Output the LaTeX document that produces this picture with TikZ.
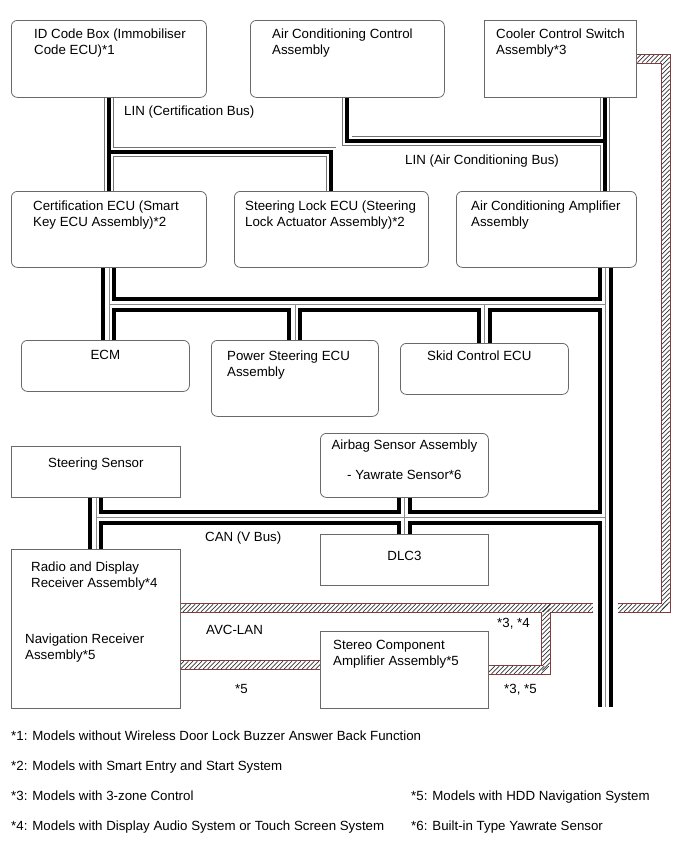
\documentclass[tikz,border=0pt]{standalone}
\usepackage{fontspec}
\setmainfont{Liberation Sans}
\usetikzlibrary{backgrounds,decorations.markings}

\definecolor{frameline}{RGB}{105,105,105}
\definecolor{avcedge}{RGB}{130,60,60}

\tikzset{
  unit/.style={draw=frameline, fill=white, line width=0.8pt, anchor=north west, inner sep=0pt},
  runit/.style={unit, rounded corners=6pt},
  txt/.style={font=\fontsize{13.3}{16}\selectfont, inner sep=0pt, align=left},
  canout/.style={draw=black, line width=15pt},
  canin/.style={draw=white, line width=7pt},
  canmid/.style={draw=black!45, line width=0.7pt},
  linout/.style={draw=black!55, line width=10pt},
  linin/.style={draw=white, line width=8.4pt},
  linmid/.style={draw=black, line width=4pt},
  avcout/.style={draw=avcedge, line width=10pt},
  avcin/.style={draw=white, line width=8.4pt},
  avchatch/.style={decorate, decoration={markings,
    mark=between positions 0 and 1 step 4.5pt with {\pgftransformresetnontranslations
      \draw[black!80, line width=0.7pt] (-3.8pt,-3.8pt) -- (3.8pt,3.8pt);}}}
}

\begin{document}
\begin{tikzpicture}[x=1pt,y=-1pt]
\useasboundingbox (0,0) rectangle (690,855);

%Boxes, top row
\node[runit, minimum width=195pt, minimum height=77pt,
  label={[txt, anchor=north west, xshift=23pt, yshift=-8.3pt]north west:ID Code Box (Immobiliser\\Code ECU)*1}] (idbox) at (11,20) {};
\node[runit, minimum width=194pt, minimum height=77pt,
  label={[txt, anchor=north west, xshift=22pt, yshift=-8.3pt]north west:Air Conditioning Control\\Assembly}] (acctrl) at (250,20) {};
\node[unit, minimum width=152pt, minimum height=77pt,
  label={[txt, anchor=north west, xshift=12pt, yshift=-8.3pt]north west:Cooler Control Switch\\Assembly*3}] (cooler) at (484,20) {};

%Boxes, second row
\node[runit, minimum width=195pt, minimum height=76pt,
  label={[txt, anchor=north west, xshift=22pt, yshift=-9.3pt]north west:Certification ECU (Smart\\Key ECU Assembly)*2}] (certecu) at (11,191) {};
\node[runit, minimum width=194pt, minimum height=76pt,
  label={[txt, anchor=north west, xshift=11pt, yshift=-9.3pt]north west:Steering Lock ECU (Steering\\Lock Actuator Assembly)*2}] (stlock) at (234,191) {};
\node[runit, minimum width=180pt, minimum height=76pt,
  label={[txt, anchor=north west, xshift=15pt, yshift=-9.3pt]north west:Air Conditioning Amplifier\\Assembly}] (acamp) at (456,191) {};

%Boxes, third row
\node[runit, minimum width=168pt, minimum height=51pt,
  label={[txt, anchor=north, yshift=-10.3pt]north:ECM}] (ecm) at (21,340) {};
\node[runit, minimum width=167pt, minimum height=76pt,
  label={[txt, anchor=north west, xshift=16pt, yshift=-10.3pt]north west:Power Steering ECU\\Assembly}] (pwrst) at (211,340) {};
\node[runit, minimum width=168pt, minimum height=51pt,
  label={[txt, anchor=north west, xshift=27pt, yshift=-7.3pt]north west:Skid Control ECU}] (skid) at (400,343) {};

%Boxes, lower part
\node[unit, minimum width=169pt, minimum height=51pt,
  label={[txt, anchor=north, yshift=-11.3pt]north:Steering Sensor}] (stsens) at (11,446) {};
\node[runit, minimum width=168pt, minimum height=64pt,
  label={[txt, align=center, anchor=north, yshift=-6.3pt]north:Airbag Sensor Assembly\\[14pt]- Yawrate Sensor*6}] (airbag) at (320,433) {};
\node[unit, minimum width=169pt, minimum height=159pt,
  label={[txt, anchor=north west, xshift=14pt, yshift=-12.3pt]north west:\hspace*{6pt}Radio and Display\\\hspace*{6pt}Receiver Assembly*4\\[40pt]Navigation Receiver\\Assembly*5}] (radio) at (11,549) {};
\node[unit, minimum width=168pt, minimum height=51pt,
  label={[txt, anchor=north, yshift=-17.3pt]north:DLC3}] (dlc) at (320,534) {};
\node[unit, minimum width=168pt, minimum height=77pt,
  label={[txt, anchor=north west, xshift=13pt, yshift=-9.3pt]north west:Stereo Component\\Amplifier Assembly*5}] (stereo) at (320,631) {};

% Bus labels
\node[txt, anchor=base west] (lincertlbl) at (124,115) {LIN (Certification Bus)};
\node[txt, anchor=base west] (linaclbl) at (405,164) {LIN (Air Conditioning Bus)};
\node[txt, anchor=base west] (vbuslbl) at (205,541) {CAN (V Bus)};
\node[txt, anchor=base west] (avclbl) at (206,634) {AVC-LAN};
\node[txt, anchor=base west] (navnote) at (235,693) {*5};
\node[txt, anchor=base west] (swnote) at (497,627) {*3, *4};
\node[txt, anchor=base west] (stnote) at (504,693) {*3, *5};

% Footnotes
\node[txt, anchor=base west] (fn1) at (11,740) {*1: Models without Wireless Door Lock Buzzer Answer Back Function};
\node[txt, anchor=base west] (fn2) at (11,770) {*2: Models with Smart Entry and Start System};
\node[txt, anchor=base west] (fn3) at (11,800) {*3: Models with 3-zone Control};
\node[txt, anchor=base west] (fn4) at (11,830) {*4: Models with Display Audio System or Touch Screen System};
\node[txt, anchor=base west] (fn5) at (411,800) {*5: Models with HDD Navigation System};
\node[txt, anchor=base west] (fn6) at (411,830) {*6: Built-in Type Yawrate Sensor};

% Bus corners and junctions
\coordinate (lincertT) at (108.5,152);
\coordinate (linacT) at (605,141);
\coordinate (canT) at (605,304.5);
\coordinate (vbusT) at (605,517);
\coordinate (canend) at (605,707);
\coordinate (avcR) at (666,608);
\coordinate (avcbr) at (546,608);
\coordinate (avclow) at (180,665);

\def\avcmain{(cooler.east) -| (avcR) -- (radio.east |- avcR)}
\def\avcst{(avcbr) |- (stereo.east)}
\def\avcnav{(avclow) -- (stereo.west |- avclow)}
\def\cannet{(certecu.south) -- (certecu.south |- ecm.north)
  (certecu.south |- canT) -- (canT)
  (acamp.south -| canT) -- (canend)
  (pwrst.north |- canT) -- (pwrst.north)
  (skid.north |- canT) -- (skid.north)
  (stsens.south) -- (stsens.south |- radio.north)
  (stsens.south |- vbusT) -- (vbusT)
  (airbag.south) -- (airbag.south |- dlc.north)}
\def\linnet{(idbox.south) -- (idbox.south |- certecu.north)
  (lincertT) -| (stlock.north)
  (acctrl.south) |- (linacT)
  (cooler.south -| linacT) -- (acamp.north -| linacT)}

\begin{scope}[on background layer]
%AVC-LAN
\draw[avcout] \avcmain;
\draw[avcout] \avcst;
\draw[avcout] \avcnav;
\draw[avcin] \avcmain;
\draw[avcin] \avcst;
\draw[avcin] \avcnav;
\path[avchatch] \avcmain;
\path[avchatch] \avcst;
\path[avchatch] \avcnav;
\draw[white, line width=25pt] (canT) -- (canend);
%CAN
\draw[canout] \cannet;
\draw[canin] \cannet;
\draw[canmid] \cannet;
%LIN
\draw[linout] \linnet;
\draw[linin] \linnet;
\draw[linmid] \linnet;
\end{scope}

\end{tikzpicture}
\end{document}
